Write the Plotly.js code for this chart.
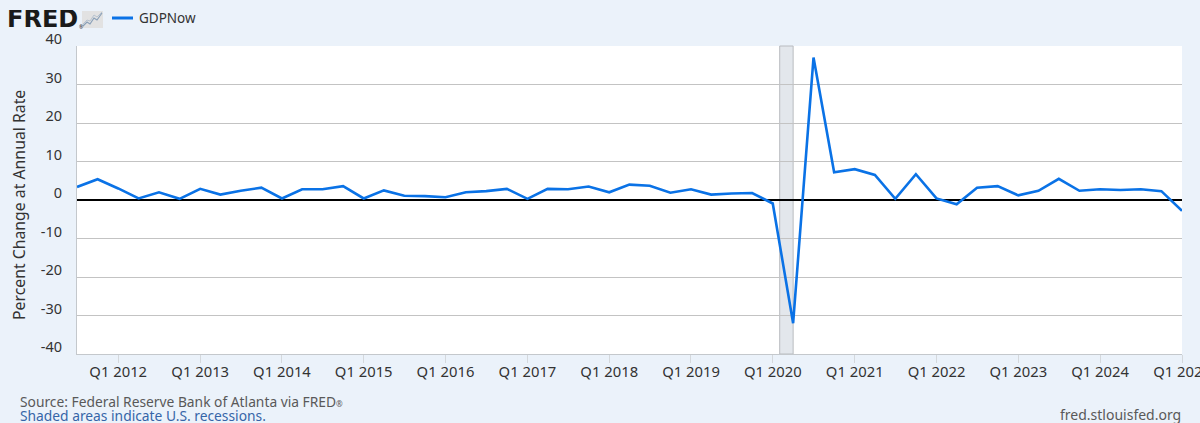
<!DOCTYPE html>
<html>
<head>
<meta charset="utf-8">
<script src="https://cdn.plot.ly/plotly-3.0.1.min.js"></script>
<style>
  html, body { margin: 0; padding: 0; background: #ebf2fa; }
  #chart { width: 1200px; height: 423px; }
</style>
</head>
<body>
<div id="chart"></div>
<script>
// ---- Data (GDPNow, percent change at annual rate, quarterly) ----
const quarterDates = [
  '2011-07-01','2011-10-01',
  '2012-01-01','2012-04-01','2012-07-01','2012-10-01',
  '2013-01-01','2013-04-01','2013-07-01','2013-10-01',
  '2014-01-01','2014-04-01','2014-07-01','2014-10-01',
  '2015-01-01','2015-04-01','2015-07-01','2015-10-01',
  '2016-01-01','2016-04-01','2016-07-01','2016-10-01',
  '2017-01-01','2017-04-01','2017-07-01','2017-10-01',
  '2018-01-01','2018-04-01','2018-07-01','2018-10-01',
  '2019-01-01','2019-04-01','2019-07-01','2019-10-01',
  '2020-01-01','2020-04-01','2020-07-01','2020-10-01',
  '2021-01-01','2021-04-01','2021-07-01','2021-10-01',
  '2022-01-01','2022-04-01','2022-07-01','2022-10-01',
  '2023-01-01','2023-04-01','2023-07-01','2023-10-01',
  '2024-01-01','2024-04-01','2024-07-01','2024-10-01',
  '2025-01-01'
];
const gdpNow = [
  3.4, 5.4,
  3.0, 0.4, 2.0, 0.3,
  2.9, 1.4, 2.4, 3.2,
  0.4, 2.8, 2.8, 3.6,
  0.4, 2.5, 1.1, 1.0,
  0.7, 2.0, 2.3, 2.9,
  0.3, 2.9, 2.8, 3.5,
  2.0, 4.0, 3.7, 1.9,
  2.8, 1.4, 1.7, 1.8,
  -0.9, -32.0, 37.0, 7.2,
  8.0, 6.5, 0.3, 6.7,
  0.4, -1.1, 3.2, 3.6,
  1.2, 2.4, 5.5, 2.4,
  2.8, 2.6, 2.8, 2.3,
  -2.8
];
const xTickDates = ['2012-01-01','2013-01-01','2014-01-01','2015-01-01','2016-01-01','2017-01-01','2018-01-01',
                    '2019-01-01','2020-01-01','2021-01-01','2022-01-01','2023-01-01','2024-01-01','2025-01-01'];
const xTickLabels = ['Q1 2012','Q1 2013','Q1 2014','Q1 2015','Q1 2016','Q1 2017','Q1 2018',
                     'Q1 2019','Q1 2020','Q1 2021','Q1 2022','Q1 2023','Q1 2024','Q1 2025'];
const yTickVals = [-40, -30, -20, -10, 0, 10, 20, 30, 40];
const yTickLabels = ['-40', '-30', '-20', '-10', '0', '10', '20', '30', '40'];
const recessionStart = ['2020-02-01'];
const recessionEnd = ['2020-04-01'];
const seriesName = 'GDPNow';

// ---- Layout helpers (pixel -> paper) ----
const L = 77, R = 18, T = 46, B = 69, W = 1200, H = 423;
const PW = W - L - R, PH = H - T - B;
const PX = x => (x - L) / PW;
const PY = y => (H - B - y) / PH;
const FONT = '"Noto Sans", "Liberation Sans", Arial, sans-serif';
const lineBlue = '#0a72e6';

const shapes = [];
recessionStart.forEach((s, i) => {
  shapes.push({
    type: 'rect', xref: 'x', yref: 'paper', x0: s, x1: recessionEnd[i], y0: 0, y1: 1,
    fillcolor: '#e3e7ec', line: { color: '#b9bcc0', width: 1 }, layer: 'below'
  });
});
// FRED logo icon
shapes.push({ type: 'rect', xref: 'paper', yref: 'paper', x0: PX(82), x1: PX(103), y0: PY(28), y1: PY(11),
  fillcolor: '#e2e2e2', line: { width: 0 } });
const iconPath = (pts) => 'M ' + pts.map(p => PX(p[0]) + ',' + PY(p[1])).join(' L ');
shapes.push({ type: 'path', xref: 'paper', yref: 'paper',
  path: iconPath([[83, 26], [87, 22], [90, 24], [94, 18], [97, 20], [102, 13]]),
  line: { color: '#8aa0b8', width: 1.2 } });
shapes.push({ type: 'path', xref: 'paper', yref: 'paper',
  path: iconPath([[83, 24], [87, 20], [90, 21], [94, 15], [97, 17], [102, 12]]),
  line: { color: '#b7c3d0', width: 1 } });
// legend sample line
shapes.push({ type: 'line', xref: 'paper', yref: 'paper', x0: PX(112), x1: PX(133), y0: PY(18), y1: PY(18),
  line: { color: lineBlue, width: 3 } });

const annotations = [
  { text: '<b>FRED</b>', xref: 'paper', yref: 'paper', x: PX(6), y: PY(19), xanchor: 'left', yanchor: 'middle',
    height: 18, valign: 'middle', borderpad: 0,
    showarrow: false, font: { family: '"DejaVu Sans", "Liberation Sans", Arial, sans-serif', size: 24, color: '#1a1a1a' } },
  { text: '®', xref: 'paper', yref: 'paper', x: PX(77), y: PY(27), xanchor: 'left', yanchor: 'middle',
    showarrow: false, font: { family: FONT, size: 5, color: '#1a1a1a' } },
  { text: seriesName, xref: 'paper', yref: 'paper', x: PX(137), y: PY(18), xanchor: 'left', yanchor: 'middle',
    showarrow: false, font: { family: FONT, size: 13.5, color: '#333333' } },
  { text: 'Percent Change at Annual Rate', xref: 'paper', yref: 'paper', x: PX(19), y: PY(205), textangle: -90,
    xanchor: 'center', yanchor: 'middle', showarrow: false, font: { family: FONT, size: 15.8, color: '#333333' } },
  { text: 'Source: Federal Reserve Bank of Atlanta via FRED<span style="font-size:8px">®</span>', xref: 'paper', yref: 'paper', x: PX(19), y: PY(401),
    height: 12, valign: 'middle', borderpad: 0,
    xanchor: 'left', yanchor: 'middle', showarrow: false, font: { family: FONT, size: 13.8, color: '#595959' } },
  { text: 'Shaded areas indicate U.S. recessions.', xref: 'paper', yref: 'paper', x: PX(19), y: PY(414.5),
    height: 12, valign: 'middle', borderpad: 0,
    xanchor: 'left', yanchor: 'middle', showarrow: false, font: { family: FONT, size: 13.8, color: '#3565a8' } },
  { text: 'fred.stlouisfed.org', xref: 'paper', yref: 'paper', x: PX(1183), y: PY(414),
    xanchor: 'right', yanchor: 'middle', showarrow: false, font: { family: FONT, size: 14, color: '#595959' } }
];

const trace = {
  type: 'scatter', mode: 'lines', name: seriesName,
  x: quarterDates, y: gdpNow,
  line: { color: lineBlue, width: 2.6 },
  hoverinfo: 'x+y'
};

const layout = {
  width: W, height: H,
  margin: { l: L, r: R, t: T, b: B, pad: 0 },
  paper_bgcolor: '#ebf2fa', plot_bgcolor: '#ffffff',
  showlegend: false,
  font: { family: FONT, size: 14, color: '#333333' },
  xaxis: {
    type: 'date', range: ['2011-07-01', '2025-01-01'],
    tickmode: 'array', tickvals: xTickDates, ticktext: xTickLabels,
    ticks: 'outside', ticklen: 8, tickcolor: '#d4d8dc', tickwidth: 1,
    showgrid: false, zeroline: false,
    showline: true, linecolor: '#c4c8cc', linewidth: 1,
    ticklabeloverflow: 'allow', ticklabelstandoff: -4,
    tickfont: { family: FONT, size: 14.8, color: '#333333' },
    fixedrange: true
  },
  yaxis: {
    range: [-40, 40], tickmode: 'array', tickvals: yTickVals, ticktext: yTickLabels,
    ticks: '', showgrid: true, gridcolor: '#c3c3c3', gridwidth: 1,
    zeroline: true, zerolinecolor: '#000000', zerolinewidth: 2,
    showline: true, linecolor: '#c4c8cc', linewidth: 1,
    ticklabelshift: -7, ticklabelstandoff: 11,
    tickfont: { family: FONT, size: 14.5, color: '#333333' },
    fixedrange: true
  },
  shapes: shapes,
  annotations: annotations
};

Plotly.newPlot('chart', [trace], layout, { displayModeBar: false, staticPlot: false });
</script>
</body>
</html>
